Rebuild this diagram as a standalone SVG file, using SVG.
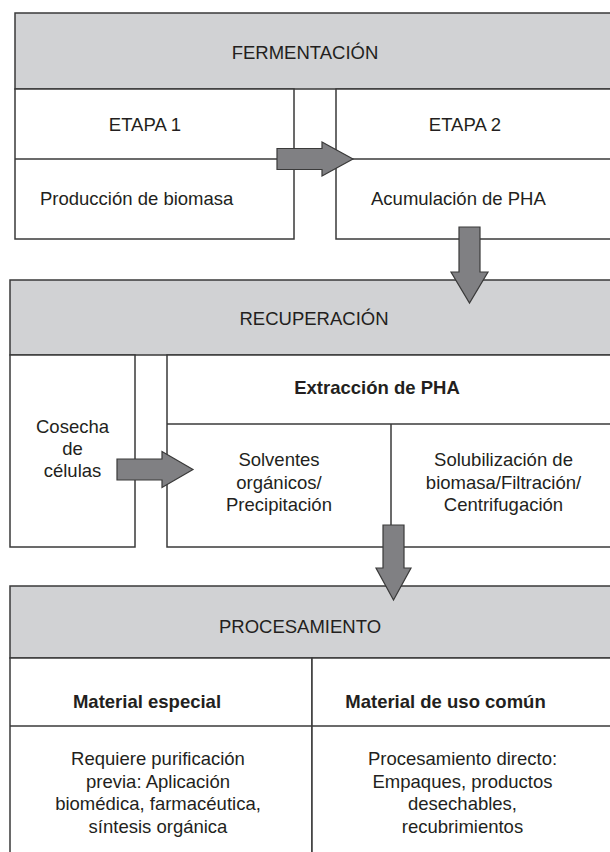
<svg xmlns="http://www.w3.org/2000/svg" width="610" height="852" viewBox="0 0 610 852">
<style>
.box{fill:#ffffff;stroke:#3a3a3a;stroke-width:1.5}
.hdr{fill:#d1d2d4;stroke:#3a3a3a;stroke-width:1.5}
.ln{stroke:#3a3a3a;stroke-width:1.5;fill:none}
.arr{fill:#808083;stroke:#3a3a3a;stroke-width:1.2;stroke-linejoin:miter}
text{font-family:"Liberation Sans",Arial,Helvetica,sans-serif;font-size:18.5px;fill:#231f20}
.c{text-anchor:middle}
.b{font-weight:bold}
</style>
<rect x="0" y="0" width="610" height="852" fill="#ffffff"/>

<g id="fermentacion">
<rect class="hdr" x="15" y="13" width="610" height="76"/>
<text class="c" x="305" y="59">FERMENTACIÓN</text>
</g>
<g id="etapa1">
<rect class="box" x="15" y="89" width="279" height="150"/>
<line class="ln" x1="15" y1="159" x2="294" y2="159"/>
<text class="c" x="145" y="131">ETAPA 1</text>
<text x="40" y="205">Producción de biomasa</text>
</g>
<g id="etapa2">
<rect class="box" x="336" y="89" width="290" height="150"/>
<line class="ln" x1="336" y1="159" x2="626" y2="159"/>
<text class="c" x="465" y="131">ETAPA 2</text>
<text x="371" y="205">Acumulación de PHA</text>
</g>

<g id="recuperacion">
<rect class="hdr" x="10" y="280" width="615" height="75"/>
<text class="c" x="314" y="325">RECUPERACIÓN</text>
</g>
<g id="cosecha">
<rect class="box" x="10" y="355" width="125" height="192"/>
<text class="c" x="72.5" y="433">Cosecha</text>
<text class="c" x="72.5" y="455">de</text>
<text class="c" x="72.5" y="477">células</text>
</g>
<g id="extraccion">
<rect class="box" x="167" y="355" width="460" height="192"/>
<line class="ln" x1="167" y1="424" x2="627" y2="424"/>
<line class="ln" x1="391" y1="424" x2="391" y2="547"/>
<text class="c b" x="377" y="394">Extracción de PHA</text>
</g>
<g id="solventes">
<text class="c" x="279" y="466">Solventes</text>
<text class="c" x="279" y="488.5">orgánicos/</text>
<text class="c" x="279" y="511">Precipitación</text>
</g>
<g id="solubilizacion">
<text class="c" x="503.5" y="466">Solubilización de</text>
<text class="c" x="503.5" y="488.5">biomasa/Filtración/</text>
<text class="c" x="503.5" y="511">Centrifugación</text>
</g>

<g id="procesamiento">
<rect class="hdr" x="10" y="586" width="615" height="72"/>
<text class="c" x="300" y="633">PROCESAMIENTO</text>
</g>
<g id="material-especial">
<rect class="box" x="10" y="658" width="302" height="210"/>
<line class="ln" x1="10" y1="726" x2="312" y2="726"/>
<text class="c b" x="147" y="708">Material especial</text>
<text class="c" x="158" y="765">Requiere purificación</text>
<text class="c" x="158" y="787.5">previa: Aplicación</text>
<text class="c" x="158" y="810">biomédica, farmacéutica,</text>
<text class="c" x="158" y="832.5">síntesis orgánica</text>
</g>
<g id="material-comun">
<rect class="box" x="312" y="658" width="315" height="210"/>
<line class="ln" x1="312" y1="726" x2="627" y2="726"/>
<text class="c b" x="445.5" y="708">Material de uso común</text>
<text class="c" x="462.5" y="765">Procesamiento directo:</text>
<text class="c" x="462.5" y="787.5">Empaques, productos</text>
<text class="c" x="462.5" y="810">desechables,</text>
<text class="c" x="462.5" y="832.5">recubrimientos</text>
</g>

<g id="connectors">
<polygon class="arr" points="277,148.5 322,148.5 322,142 353,159 322,176 322,169.5 277,169.5"/>
<polygon class="arr" points="459,227 480,227 480,272 488,272 469.5,303 451,272 459,272"/>
<polygon class="arr" points="117,459 162,459 162,451.5 193,469.5 162,487.5 162,480 117,480"/>
<polygon class="arr" points="383,525 404,525 404,568 411,568 393.5,600 376,568 383,568"/>
</g>
</svg>
